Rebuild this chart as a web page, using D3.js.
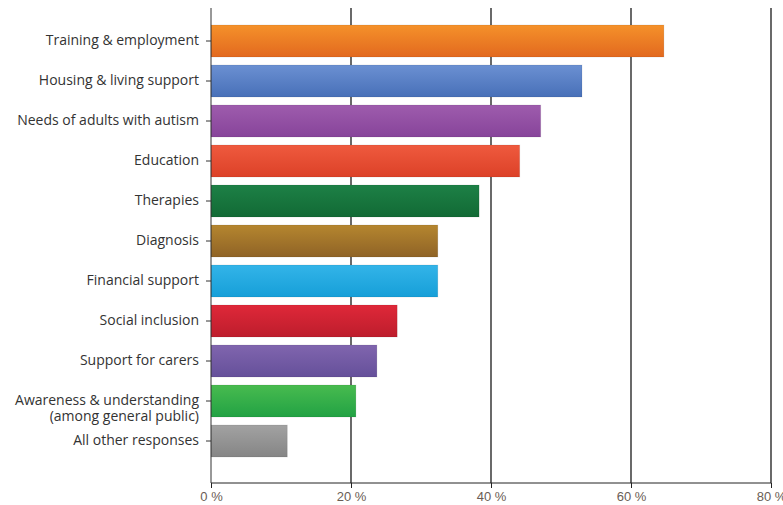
<!DOCTYPE html>
<html lang="en">
  <head>
    <meta charset="utf-8">
    <title>Priorities</title>
    <script src="https://d3js.org/d3.v7.min.js"></script>
    <style>
      body { margin: 0; background: #fff; }
      .cat text { font-family: "Open Sans", sans-serif; font-size: 14px; fill: #333; }
      .xAxis text { font-family: "Liberation Sans", Arial, sans-serif; font-size: 13px; fill: #6a5d55; }
    </style>
  </head>
  <body>
  <div id="chart"></div>
  <script>

  // categories, top to bottom
  var categories = ["Training & employment", "Housing & living support", "Needs of adults with autism",
                    "Education", "Therapies", "Diagnosis", "Financial support", "Social inclusion",
                    "Support for carers", "Awareness & understanding|(among general public)", "All other responses"];
  var values = [64.7, 53.0, 47.1, 44.1, 38.3, 32.4, 32.4, 26.6, 23.7, 20.7, 10.9];
  var colorsTop = ["#f5912a", "#6b90d2", "#9e5cad", "#ef5a3e", "#1d8046", "#b5862f", "#33b4e8", "#df2839", "#8065ae", "#48bb4f", "#a2a2a2"];
  var colorsBottom = ["#e2691f", "#4870b8", "#87449a", "#dc4128", "#126a35", "#8f6326", "#169fd8", "#bd1d2c", "#65509a", "#22a244", "#858585"];
  var xTicks = [0, 20, 40, 60, 80];

  var w = 783, h = 505;
  var margin = {top: 8, right: 12, bottom: 22, left: 211};
  var innerWidth = w - margin.left - margin.right;
  var innerHeight = h - margin.top - margin.bottom;

  var svg = d3.select("#chart").append("svg")
    .attr("width", w)
    .attr("height", h);

  var defs = svg.append("defs");
  categories.forEach(function (c, i) {
    var g = defs.append("linearGradient")
      .attr("id", "grad" + i)
      .attr("x1", 0).attr("y1", 0).attr("x2", 0).attr("y2", 1);
    g.append("stop").attr("offset", "0%").attr("stop-color", colorsTop[i]);
    g.append("stop").attr("offset", "100%").attr("stop-color", colorsBottom[i]);
  });

  var xScale = d3.scaleLinear()
    .domain([0, 80])
    .range([0, 560]);

  var yScale = d3.scaleBand()
    .domain(categories)
    .range([13, 453])
    .paddingInner(0.2)
    .paddingOuter(0.1);

  var chart = svg.append("g")
    .attr("transform", `translate (${margin.left}, ${margin.top})`);

  // vertical grid lines
  chart.selectAll(".grid")
    .data(xTicks.slice(1))
    .enter().append("line")
    .attr("class", "grid")
    .attr("x1", d => xScale(d))
    .attr("x2", d => xScale(d))
    .attr("y1", 0)
    .attr("y2", innerHeight)
    .attr("stroke", "#1a1a1a")
    .attr("stroke-width", 1.3);

  // bars
  chart.selectAll(".bar")
    .data(values)
    .enter().append("rect")
    .attr("class", "bar")
    .attr("x", 0)
    .attr("y", (d, i) => yScale(categories[i]))
    .attr("width", d => xScale(d))
    .attr("height", yScale.bandwidth())
    .attr("fill", (d, i) => "url(#grad" + i + ")")
    .attr("stroke", "rgba(0,0,0,0.08)");

  // category axis
  var yAxis = d3.axisLeft(yScale).tickSize(5).tickPadding(7).tickFormat("");
  var yG = chart.append("g").attr("class", "cat").call(yAxis);
  yG.select(".domain").attr("stroke", "#333").attr("d", `M0,0V${innerHeight}`);
  yG.selectAll(".tick line").attr("stroke", "#333");
  yG.selectAll(".tick").each(function (d) {
    var lines = d.split("|");
    var t = d3.select(this).append("text")
      .attr("x", -12)
      .attr("text-anchor", "end");
    lines.forEach(function (l, j) {
      t.append("tspan").attr("x", -12).attr("dy", j === 0 ? "0.3em" : "1.1em").text(l);
    });
  });

  // value axis
  var xAxis = d3.axisBottom(xScale)
    .tickValues(xTicks)
    .tickSize(5)
    .tickPadding(4)
    .tickFormat(d => d + " %");
  var xG = chart.append("g")
    .attr("class", "xAxis")
    .attr("transform", `translate (0, ${innerHeight})`)
    .call(xAxis);
  xG.select(".domain").attr("stroke", "#222").attr("d", `M0,0H${xScale(80)}`);
  xG.selectAll(".tick line").attr("stroke", "#222");

  </script>
  </body>
</html>
